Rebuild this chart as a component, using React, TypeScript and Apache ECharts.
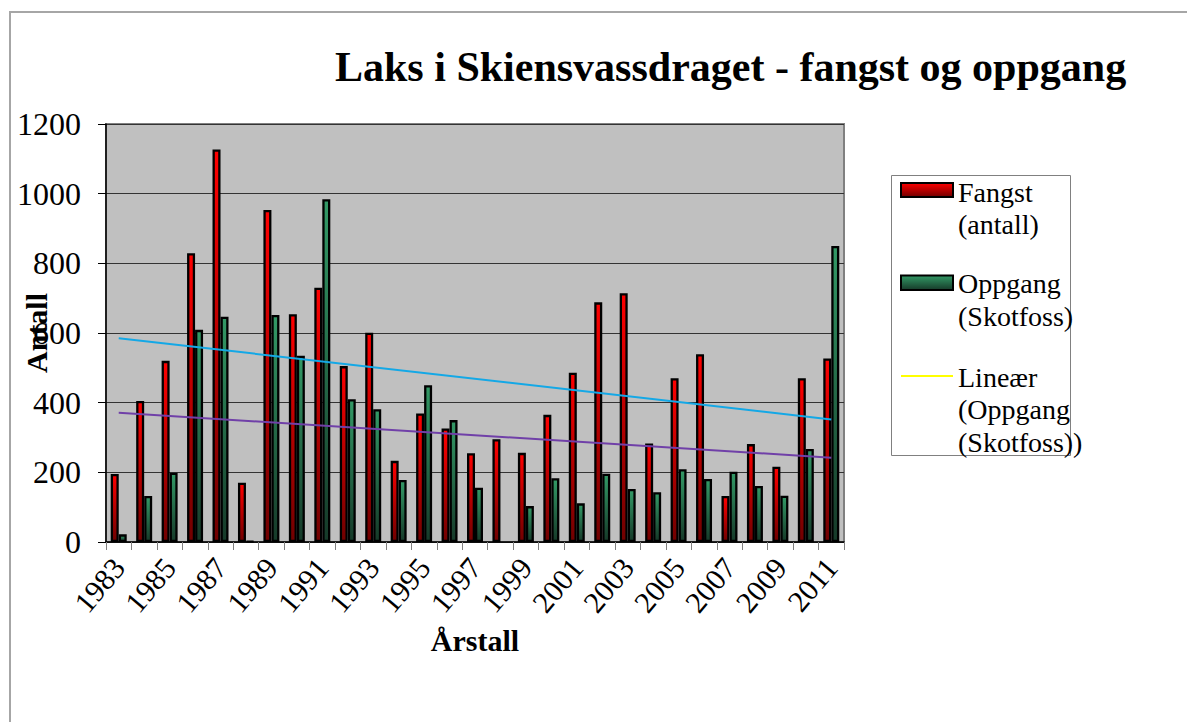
import React, { useEffect, useRef } from "react";
import * as echarts from "echarts";

const years = [
  "1983", "1984", "1985", "1986", "1987", "1988", "1989", "1990", "1991", "1992",
  "1993", "1994", "1995", "1996", "1997", "1998", "1999", "2000", "2001", "2002",
  "2003", "2004", "2005", "2006", "2007", "2008", "2009", "2010", "2011",
];
const fangst = [
  195, 405, 520, 829, 1127, 170, 953, 654, 730, 505,
  601, 233, 369, 326, 255, 295, 256, 365, 486, 688,
  714, 283, 470, 539, 132, 281, 216, 470, 527,
];
const oppgang = [
  22, 132, 199, 609, 647, 2, 652, 535, 984, 410,
  381, 178, 450, 350, 156, null, 103, 183, 111, 196,
  152, 143, 209, 181, 202, 161, 133, 267, 850,
];
const fangstTrend = [585, 352];
const oppgangTrend = [371, 242];
const yTicks = [0, 200, 400, 600, 800, 1000, 1200];

const TITLE = "Laks i Skiensvassdraget - fangst og oppgang";
const legendLabels = ["Fangst\n(antall)", "Oppgang\n(Skotfoss)", "Lineær\n(Oppgang\n(Skotfoss))"];

const SERIF = "'Liberation Serif', 'Times New Roman', serif";

const redGrad = () =>
  new echarts.graphic.LinearGradient(0, 0, 0, 1, [
    { offset: 0, color: "#FF0000" },
    { offset: 1, color: "#700000" },
  ]);
const greenGrad = () =>
  new echarts.graphic.LinearGradient(0, 0, 0, 1, [
    { offset: 0, color: "#339966" },
    { offset: 1, color: "#163a29" },
  ]);

const endpoints = (pair: number[]) =>
  years.map((_, i) => (i === 0 ? pair[0] : i === years.length - 1 ? pair[1] : null));

export default function App() {
  const ref = useRef<HTMLDivElement>(null);
  useEffect(() => {
    document.body.style.margin = "0";
    const chart = echarts.init(ref.current!, null, { renderer: "svg" });
    const legendX = 891.5;
    chart.setOption({
      animation: false,
      backgroundColor: "#ffffff",
      title: {
        text: TITLE,
        left: 330,
        top: 41,
        textStyle: { fontFamily: SERIF, fontWeight: "bold", fontSize: 42, color: "#000" },
      },
      grid: {
        left: 106,
        top: 124,
        width: 738,
        height: 418,
        containLabel: false,
        outerBoundsMode: "none",
        show: true,
        backgroundColor: "#C0C0C0",
        borderColor: "#808080",
        borderWidth: 2,
      },
      xAxis: {
        type: "category",
        data: years,
        name: "Årstall",
        nameLocation: "middle",
        nameGap: 83,
        nameMoveOverlap: false,
        nameTextStyle: { fontFamily: SERIF, fontWeight: "bold", fontSize: 30, color: "#000" },
        axisLine: { lineStyle: { color: "#000", width: 1.5 } },
        axisTick: { show: true, interval: 0, length: 8, lineStyle: { color: "#808080", width: 1 } },
        axisLabel: {
          interval: 1,
          rotate: 50,
          margin: 20,
          fontFamily: SERIF,
          fontSize: 30,
          color: "#000",
        },
      },
      yAxis: {
        type: "value",
        min: 0,
        max: 1200,
        interval: 200,
        name: "Antall",
        nameLocation: "middle",
        nameGap: 55,
        nameMoveOverlap: false,
        nameTextStyle: { fontFamily: SERIF, fontWeight: "bold", fontSize: 30, color: "#000" },
        axisLine: { show: true, lineStyle: { color: "#000", width: 1.5 } },
        axisTick: { show: true, length: 8, lineStyle: { color: "#000" } },
        axisLabel: {
          margin: 25,
          fontFamily: SERIF,
          fontSize: 32,
          color: "#000",
          formatter: (v: number) => (yTicks.includes(v) ? String(v) : ""),
        },
        splitLine: { show: true, lineStyle: { color: "#333333", width: 1 } },
      },
      series: [
        {
          name: "Fangst (antall)",
          type: "bar",
          data: fangst,
          barWidth: 8,
          barGap: "0%",
          itemStyle: { color: redGrad(), borderColor: "#000", borderWidth: 2.3 },
        },
        {
          name: "Oppgang (Skotfoss)",
          type: "bar",
          data: oppgang,
          barWidth: 8,
          barGap: "0%",
          itemStyle: { color: greenGrad(), borderColor: "#000", borderWidth: 2.3 },
        },
        {
          name: "Trend Fangst",
          type: "line",
          data: endpoints(fangstTrend),
          connectNulls: true,
          symbol: "none",
          lineStyle: { color: "#14A8E6", width: 2 },
          z: 5,
        },
        {
          name: "Lineær (Oppgang (Skotfoss))",
          type: "line",
          data: endpoints(oppgangTrend),
          connectNulls: true,
          symbol: "none",
          lineStyle: { color: "#7040A8", width: 2 },
          z: 5,
        },
      ],
      graphic: [
        {
          type: "polyline",
          silent: true,
          shape: { points: [[10, 722], [10, 12], [1187, 12]] },
          style: { stroke: "#a6a6a6", lineWidth: 2, fill: "none" },
        },
        {
          type: "rect",
          shape: { x: legendX, y: 175.5, width: 179, height: 280 },
          style: { fill: "#fff", stroke: "#808080", lineWidth: 1 },
        },
        {
          type: "rect",
          shape: { x: 901, y: 183, width: 52, height: 14 },
          style: { fill: redGrad(), stroke: "#000", lineWidth: 2 },
        },
        {
          type: "text",
          x: 958,
          y: 176,
          style: { text: legendLabels[0], font: `28px ${SERIF}`, fill: "#000", lineHeight: 32.5, verticalAlign: "top" },
        },
        {
          type: "rect",
          shape: { x: 901, y: 275.5, width: 52, height: 14.5 },
          style: { fill: greenGrad(), stroke: "#000", lineWidth: 2 },
        },
        {
          type: "text",
          x: 958,
          y: 267.5,
          style: { text: legendLabels[1], font: `28px ${SERIF}`, fill: "#000", lineHeight: 32.5, verticalAlign: "top" },
        },
        {
          type: "line",
          shape: { x1: 901, y1: 376, x2: 953, y2: 376 },
          style: { stroke: "#FFFF00", lineWidth: 2 },
        },
        {
          type: "text",
          x: 958,
          y: 361,
          style: { text: legendLabels[2], font: `28px ${SERIF}`, fill: "#000", lineHeight: 32.5, verticalAlign: "top" },
        },
      ],
    });
    return () => chart.dispose();
  }, []);
  return <div ref={ref} style={{ width: 1187, height: 722 }} />;
}
